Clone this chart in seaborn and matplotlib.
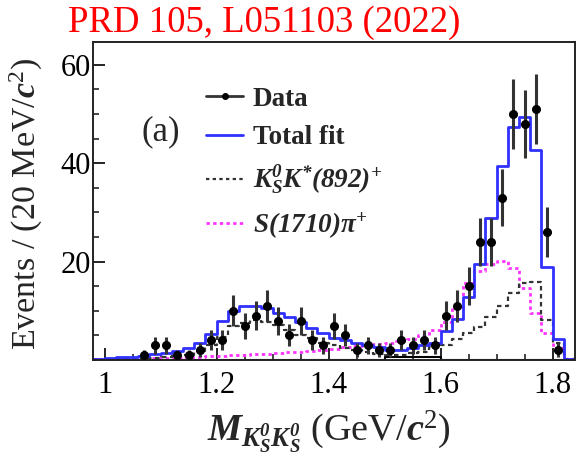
import numpy as np
import pandas as pd
import matplotlib
matplotlib.use("Agg")
import matplotlib.pyplot as plt
import seaborn as sns
from matplotlib.lines import Line2D
from matplotlib.ticker import MultipleLocator

# ---- binning (20 MeV bins) ----
bin_edges = np.round(np.arange(0.98, 1.8401, 0.02), 2)
bin_centers = np.round(0.5 * (bin_edges[:-1] + bin_edges[1:]), 2)

# ---- data points (bins 1.07 ... 1.81) ----
data_mass = np.round(np.arange(1.07, 1.8101, 0.02), 2)
data_counts = [1, 3, 3, 1, 1, 2, 4, 4,
               10, 7, 9, 11, 8, 5, 8, 4,
               3, 7, 5, 2, 3, 2, 2, 4,
               3, 4, 3, 9, 11, 15, 24, 24,
               33, 50, 48, 51, 26, 2]

# ---- fit components per bin (0.99 ... 1.83) ----
total_fit = [0.3, 0.35, 0.55, 0.7, 0.9, 1.15, 1.5, 1.8, 2.5, 3.5, 5.2, 7.9,
             10.0, 11.0, 11.0, 10.5, 9.6, 8.8, 7.8, 6.6, 5.4, 4.5, 4.1, 3.5,
             3.05, 2.6, 2.0, 2.0, 2.5, 3.0, 3.5, 5.9, 8.4, 12.9, 19.5, 28.9,
             39.5, 47.4, 49.4, 42.6, 18.8, 4.3, 0.3]
ks_kstar = [0.05, 0.1, 0.15, 0.2, 0.3, 0.4, 0.55, 0.75, 1.1, 1.8, 3.0, 4.7,
            7.0, 7.6, 8.1, 7.8, 7.1, 6.1, 5.1, 4.4, 3.5, 3.05, 2.4, 2.0,
            1.7, 1.2, 1.0, 1.0, 1.35, 1.7, 2.6, 3.05, 4.2, 5.4, 6.8, 8.8,
            11.0, 13.6, 15.6, 15.9, 8.1, 3.5, 0.2]
s1710_pi = [0.1, 0.15, 0.2, 0.25, 0.3, 0.35, 0.45, 0.5, 0.6, 0.7, 0.8, 0.9,
            1.0, 1.1, 1.2, 1.3, 1.4, 1.55, 1.7, 1.85, 2.0, 2.3, 2.6, 2.8,
            3.0, 3.2, 3.4, 3.8, 4.3, 5.0, 6.0, 7.8, 10.8, 15.6, 18.0, 19.6,
            20.2, 18.6, 14.6, 9.6, 5.4, 2.4, 0.3]
bkg = [0.0] * 26 + [0.6, 0.6, 0.6, 0.6, 0.6] + [0.0] * 12

legend_labels = ["Data", "Total fit",
                 r"$\mathbfit{K^{0}_{S}K^{*}(892)^{+}}$",
                 r"$\mathbfit{S(1710)\pi^{+}}$"]
x_ticks = [1.0, 1.2, 1.4, 1.6, 1.8]
x_ticklabels = ["1", "1.2", "1.4", "1.6", "1.8"]
y_ticks = [20, 40, 60]
y_ticklabels = ["20", "40", "60"]

hist_df = pd.DataFrame({"mass": bin_centers, "total": total_fit, "kstar": ks_kstar,
                        "s1710": s1710_pi, "bkg": bkg})
edges_list = list(bin_edges)

# ---- style ----
sns.set_theme(style="ticks")
SERIF = ["Liberation Serif", "DejaVu Serif"]
plt.rcParams["font.family"] = SERIF
plt.rcParams["mathtext.fontset"] = "custom"
plt.rcParams["mathtext.rm"] = "Liberation Serif"
plt.rcParams["mathtext.it"] = "Liberation Serif:italic"
plt.rcParams["mathtext.bf"] = "Liberation Serif:bold"
plt.rcParams["mathtext.bfit"] = "Liberation Serif:italic:bold"

fig = plt.figure(figsize=(5.77, 4.58), dpi=100)
ax = fig.add_axes([0.1617, 0.214, 0.8348, 0.695])

blue = "#3030ff"
magenta = "#ff33ff"
dark = "#333333"

sns.histplot(data=hist_df, x="mass", weights="s1710", bins=edges_list, element="step",
             fill=False, color=magenta, linewidth=2.0, linestyle=(0, (1.2, 1.2)), ax=ax)
sns.histplot(data=hist_df, x="mass", weights="kstar", bins=edges_list, element="step",
             fill=False, color=dark, linewidth=1.6, linestyle=(0, (2.0, 1.6)), ax=ax)
sns.histplot(data=hist_df, x="mass", weights="bkg", bins=edges_list, element="step",
             fill=False, color="black", linewidth=1.5, ax=ax)
sns.histplot(data=hist_df, x="mass", weights="total", bins=edges_list, element="step",
             fill=False, color=blue, linewidth=2.0, ax=ax)

ax.errorbar(data_mass, data_counts, yerr=np.sqrt(data_counts), fmt="o",
            color="black", ecolor=dark, ms=5.5, elinewidth=2.2, capsize=0, zorder=5)

ax.set_xlim(0.98, 1.84)
ax.set_ylim(0, 64.7)
ax.set_xticks(x_ticks)
ax.set_xticklabels(x_ticklabels, fontfamily=SERIF, fontsize=22)
ax.set_yticks(y_ticks)
ax.set_yticklabels(y_ticklabels, fontfamily=SERIF, fontsize=22)
ax.xaxis.set_minor_locator(MultipleLocator(0.05))
ax.yaxis.set_minor_locator(MultipleLocator(5))
ax.tick_params(axis="both", which="major", direction="in", length=8.6, width=1.2,
               colors="black", top=False, right=False)
ax.tick_params(axis="both", which="minor", direction="in", length=4.3, width=1.2,
               top=False, right=False)
ax.tick_params(axis="x", which="major", pad=8)
ax.tick_params(axis="y", which="major", pad=2)
for sp in ax.spines.values():
    sp.set_visible(True)
    sp.set_linewidth(1.4)
    sp.set_color("#222222")

ax.set_xlabel(r"$\mathbfit{M}_{\mathbfit{K^{0}_{S}K^{0}_{S}}}$ (GeV/$\mathbfit{c}^{2}$)",
              fontsize=27.5)
ax.xaxis.set_label_coords(0.49, -0.15)
ax.set_ylabel(r"Events / (20 MeV/$\mathbfit{c}^{2}$)", fontsize=24.5)
ax.yaxis.set_label_coords(-0.1, 0.49)

handles = [
    Line2D([], [], color=dark, marker="o", ms=4, lw=2.0, mfc="black", mec="black"),
    Line2D([], [], color=blue, lw=2.0),
    Line2D([], [], color=dark, lw=1.6, linestyle=(0, (1.5, 1.5))),
    Line2D([], [], color=magenta, lw=2.0, linestyle=(0, (1.2, 1.2))),
]
leg = ax.legend(handles, legend_labels, loc="upper left", bbox_to_anchor=(0.235, 0.858),
                frameon=False, fontsize=19.5, handlelength=1.35, handletextpad=0.35,
                labelspacing=0.5, borderpad=0, borderaxespad=0)
for t in leg.get_texts():
    t.set_fontweight("bold")

ax.text(0.14, 0.716, "(a)", transform=ax.transAxes, fontsize=25,
        ha="center", va="center")

fig.text(0.458, 0.95, "PRD 105, L051103 (2022)", color="red", fontsize=26.5,
         ha="center", va="center")

fig.savefig("out.png", dpi=100)
